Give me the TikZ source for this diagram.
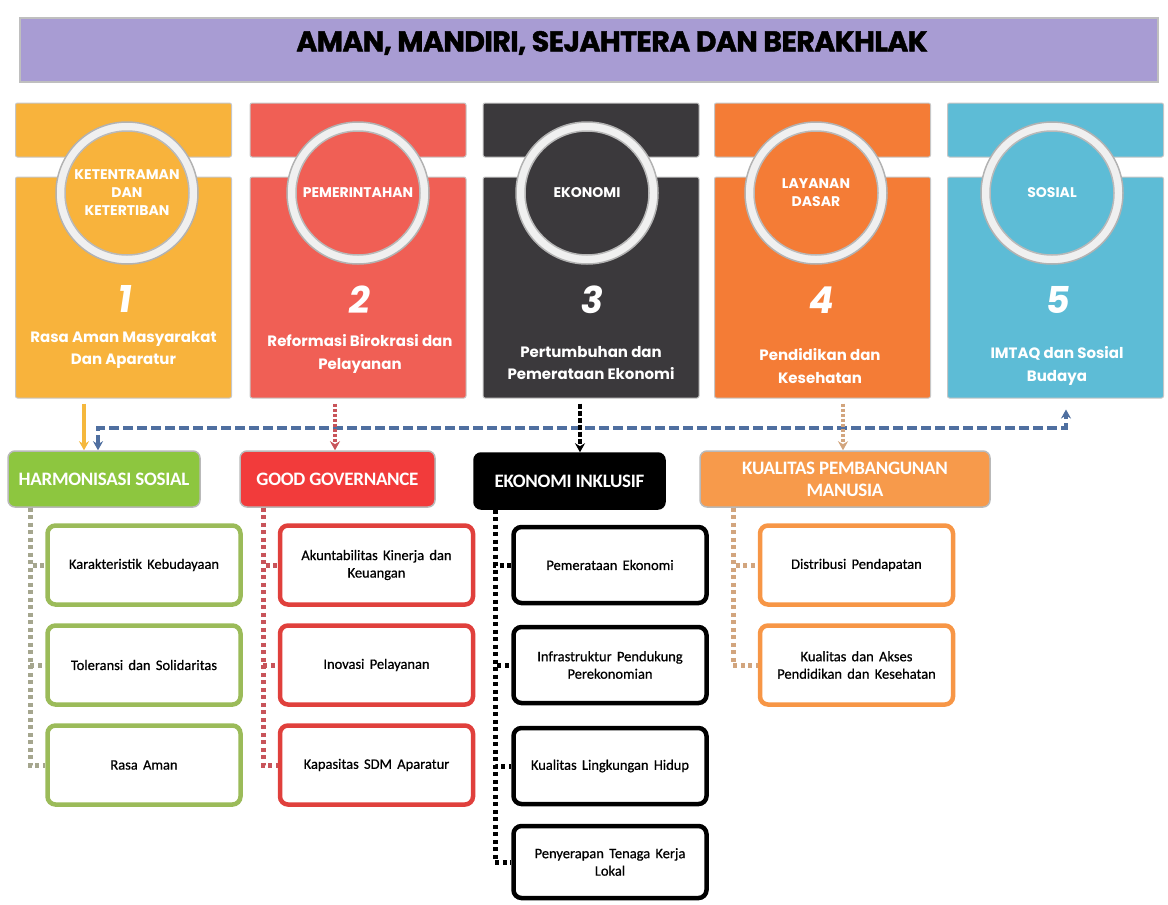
\documentclass[tikz,border=0pt]{standalone}
\usepackage{fontspec}
\setmainfont{Carlito}
\newfontfamily\popfont{Poppins}
\newfontfamily\titlefont[BoldFeatures={FakeBold=1.5}, LetterSpace=-2]{Poppins}
\newfontfamily\numfont[FakeSlant=0.15]{Poppins}
\newfontfamily\catfont[LetterSpace=-1.5]{Carlito}
\newfontfamily\subfont[WordSpace=1.6, FakeBold=0.6]{Carlito}
\usetikzlibrary{arrows.meta}

\definecolor{titlebg}{HTML}{A89CD3}
\definecolor{pone}{HTML}{F8B33C}
\definecolor{ptwo}{HTML}{F05F55}
\definecolor{pthree}{HTML}{3B393C}
\definecolor{pfour}{HTML}{F47C36}
\definecolor{pfive}{HTML}{5DBCD6}
\definecolor{kgreen}{HTML}{8DC63F}
\definecolor{kred}{HTML}{F23B3B}
\definecolor{korange}{HTML}{F79A4B}
\definecolor{bgreen}{HTML}{9BBB59}
\definecolor{bred}{HTML}{E0403C}
\definecolor{borange}{HTML}{F79646}
\definecolor{lblue}{HTML}{4F6FA0}
\definecolor{lyellow}{HTML}{F5B83D}
\definecolor{ltan}{HTML}{D2A57E}
\definecolor{lolive}{HTML}{A5A68E}
\definecolor{lred}{HTML}{C8545A}

\tikzset{
  strip/.style={rectangle, rounded corners=2pt, minimum width=216pt, minimum height=54pt, draw=gray!45, line width=1pt, inner sep=0pt},
  piece/.style={rectangle, rounded corners=2pt, minimum width=216pt, minimum height=221pt, draw=gray!45, line width=1pt, inner sep=0pt},
  ring/.style={circle, minimum size=142pt, fill=gray!12, draw=gray!60, line width=1.5pt, inner sep=0pt},
  disc/.style={circle, minimum size=124pt, draw=gray!55, line width=1.5pt, inner sep=0pt, text=white, align=center, font=\popfont\bfseries\fontsize{14}{18}\selectfont},
  numtxt/.style={text=white, font=\numfont\bfseries\fontsize{37}{37}\selectfont},
  desctxt/.style={text=white, align=center, font=\popfont\bfseries\fontsize{15}{22.5}\selectfont},
  catbox/.style={rectangle, rounded corners=7pt, minimum height=56pt, draw=gray!55, line width=1.5pt, text=white, align=center, font=\catfont\bfseries\fontsize{19}{22}\selectfont},
  subbox/.style={rectangle, rounded corners=8pt, minimum width=193pt, minimum height=79pt, fill=white, line width=4.5pt, align=center, font=\subfont\fontsize{14.5}{17.5}\selectfont},
  drop/.style={line width=4pt, -{Stealth[length=9pt,width=10pt]}},
  column/.style={line width=5pt, dash pattern=on 4pt off 3.5pt},
}

\begin{document}
\begin{tikzpicture}[x=1pt,y=-1pt]
  \useasboundingbox (0,0) rectangle (1168,905);

  % title
  \node[rectangle, minimum width=1138pt, minimum height=64pt, fill=titlebg, draw=gray!50, line width=1.5pt] (title) at (589,50) {};
  \node[font=\titlefont\bfseries\fontsize{28.5}{28.5}\selectfont] (ttext) at (612,43) {AMAN, MANDIRI, SEJAHTERA DAN BERAKHLAK};

  % panel 1
  \node[strip, fill=pone] (t1) at (123.5,130) {};
  \node[piece, fill=pone] (p1) at (123.5,287.5) {};
  \node[ring] (r1) at (127,193) {};
  \node[disc, fill=pone] (c1) at (r1) {KETENTRAMAN\\DAN\\KETERTIBAN};
  \node[numtxt] (n1) at (123.5,299) {1};
  \node[desctxt] (d1) at (123.5,350) {Rasa Aman Masyarakat\\Dan Aparatur};

  % panel 2
  \node[strip, fill=ptwo] (t2) at (358,130) {};
  \node[piece, fill=ptwo] (p2) at (358,287.5) {};
  \node[ring] (r2) at (358,193) {};
  \node[disc, fill=ptwo] (c2) at (r2) {PEMERINTAHAN};
  \node[numtxt] (n2) at (358,300) {2};
  \node[desctxt] (d2) at (360,354) {Reformasi Birokrasi dan\\Pelayanan};

  % panel 3
  \node[strip, fill=pthree] (t3) at (591,130) {};
  \node[piece, fill=pthree] (p3) at (591,287.5) {};
  \node[ring] (r3) at (587,193) {};
  \node[disc, fill=pthree] (c3) at (r3) {EKONOMI};
  \node[numtxt] (n3) at (591,300) {3};
  \node[desctxt] (d3) at (591,363) {Pertumbuhan dan\\Pemerataan Ekonomi};

  % panel 4
  \node[strip, fill=pfour] (t4) at (822.5,130) {};
  \node[piece, fill=pfour] (p4) at (822.5,287.5) {};
  \node[ring] (r4) at (816,193) {};
  \node[disc, fill=pfour] (c4) at (r4) {LAYANAN\\DASAR};
  \node[numtxt] (n4) at (820,300) {4};
  \node[desctxt] (d4) at (820,366) {Pendidikan dan\\Kesehatan};

  % panel 5
  \node[strip, fill=pfive] (t5) at (1055.5,130) {};
  \node[piece, fill=pfive] (p5) at (1055.5,287.5) {};
  \node[ring] (r5) at (1052,193) {};
  \node[disc, fill=pfive] (c5) at (r5) {SOSIAL};
  \node[numtxt] (n5) at (1057,300) {5};
  \node[desctxt] (d5) at (1057,366) {IMTAQ dan Sosial\\Budaya};

  % second row
  \node[catbox, minimum width=192pt, fill=kgreen] (k1) at (104,479) {HARMONISASI SOSIAL};
  \node[catbox, minimum width=195pt, fill=kred] (k2) at (337.5,479) {GOOD GOVERNANCE};
  \node[catbox, minimum width=191pt, fill=black, draw=black] (k3) at (569.5,481) {EKONOMI INKLUSIF};
  \node[catbox, minimum width=290pt, fill=korange] (k4) at (845,479) {KUALITAS PEMBANGUNAN\\MANUSIA};

  % blue link
  \coordinate (lb) at (98,0);
  \coordinate (rb) at (1066,0);
  \coordinate (bl) at (0,428);
  \draw[lblue, line width=4pt, dash pattern=on 10pt off 4pt, {Stealth[length=9pt,width=10pt]}-{Stealth[length=9pt,width=10pt]}, shorten >=11pt]
    (k1.north -| lb) -- (lb |- bl) -| (p5.south -| rb);

  % drops
  \coordinate (yx) at (84,0);
  \coordinate (rx) at (335,0);
  \coordinate (bx) at (580,0);
  \coordinate (ox) at (843,0);
  \draw[drop, lyellow, shorten <=5pt] (p1.south -| yx) -- (k1.north -| yx);
  \draw[drop, lred, dash pattern=on 3pt off 2pt, shorten <=5pt] (p2.south -| rx) -- (k2.north -| rx);
  \draw[drop, black, dash pattern=on 5pt off 2pt, shorten <=5pt] (p3.south -| bx) -- (k3.north -| bx);
  \draw[drop, ltan, dash pattern=on 3pt off 2pt, shorten <=5pt] (p4.south -| ox) -- (k4.north -| ox);

  % sub boxes
  \node[subbox, draw=bgreen] (s11) at (144,565) {Karakteristik Kebudayaan};
  \node[subbox, draw=bgreen] (s12) at (144,665) {Toleransi dan Solidaritas};
  \node[subbox, draw=bgreen] (s13) at (144,765) {Rasa Aman};
  \node[subbox, draw=bred] (s21) at (376.5,565) {Akuntabilitas Kinerja dan\\Keuangan};
  \node[subbox, draw=bred] (s22) at (376.5,665) {Inovasi Pelayanan};
  \node[subbox, draw=bred] (s23) at (376.5,765) {Kapasitas SDM Aparatur};
  \node[subbox, draw=black, minimum height=76pt] (s31) at (610,565) {Pemerataan Ekonomi};
  \node[subbox, draw=black, minimum height=76pt] (s32) at (610,665) {Infrastruktur Pendukung\\Perekonomian};
  \node[subbox, draw=black, minimum height=76pt] (s33) at (610,766) {Kualitas Lingkungan Hidup};
  \node[subbox, draw=black, minimum height=72pt] (s34) at (610,862) {Penyerapan Tenaga Kerja\\Lokal};
  \node[subbox, draw=borange] (s41) at (856.5,565) {Distribusi Pendapatan};
  \node[subbox, draw=borange] (s42) at (856.5,665) {Kualitas dan Akses\\Pendidikan dan Kesehatan};

  % columns
  \coordinate (gx) at (30,0);
  \draw[column, lolive] (k1.south -| gx) |- (s11.west);
  \draw[column, lolive] (k1.south -| gx) |- (s12.west);
  \draw[column, lolive] (k1.south -| gx) |- (s13.west);
  \coordinate (ex) at (263,0);
  \draw[column, lred] (k2.south -| ex) |- (s21.west);
  \draw[column, lred] (k2.south -| ex) |- (s22.west);
  \draw[column, lred] (k2.south -| ex) |- (s23.west);
  \coordinate (fx) at (495,0);
  \draw[column, black] (k3.south -| fx) |- (s31.west);
  \draw[column, black] (k3.south -| fx) |- (s32.west);
  \draw[column, black] (k3.south -| fx) |- (s33.west);
  \draw[column, black] (k3.south -| fx) |- (s34.west);
  \coordinate (hx) at (733,0);
  \draw[column, ltan] (k4.south -| hx) |- (s41.west);
  \draw[column, ltan] (k4.south -| hx) |- (s42.west);
\end{tikzpicture}
\end{document}
